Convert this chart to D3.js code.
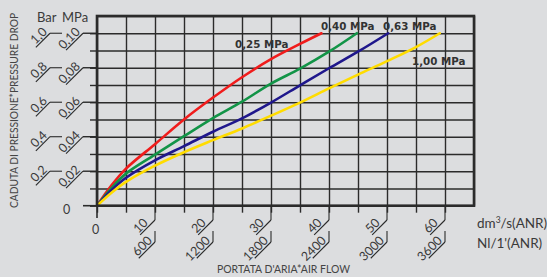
<!DOCTYPE html>
<html><head><meta charset="utf-8">
<script src="https://cdn.jsdelivr.net/npm/d3@7"></script>
<style>
html,body{margin:0;padding:0;background:#dcdddf;}
svg{display:block;}
</style></head>
<body>
<svg id="c" width="547" height="277"></svg>
<script>
// ---- data ----
const flowGrid = [0,5,10,15,20,25,30,35,40,45,50,55,60,65];
const flowMajor = [10,20,30,40,50,60];
const flowLabels = ["10","20","30","40","50","60"];
const nlLabels = ["600","1200","1800","2400","3000","3600"];
const mpaGrid = [0,0.01,0.02,0.03,0.04,0.05,0.06,0.07,0.08,0.09,0.10,0.11];
const mpaMajor = [0.02,0.04,0.06,0.08,0.10];
const mpaLabels = ["0,02","0,04","0,06","0,08","0,10"];
const barLabels = ["0,2","0,4","0,6","0,8","1,0"];

const seriesNames = ["0,25 MPa","0,40 MPa","0,63 MPa","1,00 MPa"];
const seriesColors = ["#f01c1c","#129447","#1f178c","#ffdc00"];
const flow025 = [0,2.5,5,10,15,20,25,30,35,38.7];
const drop025 = [0,0.0118,0.0215,0.0357,0.0500,0.0627,0.0745,0.0850,0.0938,0.100];
const flow040 = [0,2.5,5,10,15,20,25,30,35,40,44.8];
const drop040 = [0,0.0102,0.0186,0.0296,0.0403,0.0508,0.0603,0.0708,0.0795,0.0893,0.100];
const flow063 = [0,2.5,5,10,15,20,25,30,35,40,45,50.2];
const drop063 = [0,0.0090,0.0162,0.0263,0.0345,0.0429,0.0506,0.0598,0.0698,0.0797,0.0893,0.100];
const flow100 = [0,2.5,5,10,15,20,25,30,35,40,45,50,55,59.1];
const drop100 = [0,0.0075,0.0138,0.0232,0.0310,0.0380,0.0448,0.0522,0.0598,0.0680,0.0760,0.0838,0.0920,0.100];

// ---- layout ----
const svg = d3.select("#c");
const x = d3.scaleLinear().domain([0,65]).range([97,474]);
const y = d3.scaleLinear().domain([0,0.11]).range([205.7,16]);
const ink = "#2b2b2b", txt = "#3a3a3a";
const font = "Lato, 'DejaVu Sans', sans-serif";

svg.append("rect").attr("width",547).attr("height",277).attr("fill","#dcdddf");

// grid via axes
const gx = svg.append("g").attr("transform",`translate(0,${y(0)})`)
  .call(d3.axisBottom(x).tickValues(flowGrid).tickSize(-(y(0)-y(0.11))).tickFormat(""));
const gy = svg.append("g").attr("transform",`translate(${x(0)},0)`)
  .call(d3.axisLeft(y).tickValues(mpaGrid).tickSize(-(x(65)-x(0))).tickFormat(""));
[gx,gy].forEach(g=>{g.select(".domain").remove();
  g.selectAll("line").attr("stroke",ink).attr("stroke-width",1.4);});

// outside ticks (x)
const tx = svg.append("g").attr("transform",`translate(0,${y(0)})`)
  .call(d3.axisBottom(x).tickValues(flowGrid.filter(v=>v<65)).tickSize(7).tickFormat(""));
tx.select(".domain").remove();
tx.selectAll("line").attr("stroke",ink).attr("stroke-width",1.4);
// outside ticks (y)
const ty = svg.append("g").attr("transform",`translate(${x(0)},0)`)
  .call(d3.axisLeft(y).tickValues(mpaGrid.filter(v=>v<0.11)).tickSize(7).tickFormat(""));
ty.select(".domain").remove();
ty.selectAll("line").attr("stroke",ink).attr("stroke-width",1.4);

// curves
const lineGen = d3.line().x(d=>x(d[0])).y(d=>y(d[1])).curve(d3.curveCatmullRom.alpha(0.5));
const seriesData = [[flow025,drop025],[flow040,drop040],[flow063,drop063],[flow100,drop100]];
seriesData.forEach((s,i)=>{
  const pts = s[0].map((f,j)=>[f,s[1][j]]);
  svg.append("path").attr("d",lineGen(pts)).attr("fill","none")
    .attr("stroke",seriesColors[i]).attr("stroke-width",2.6).attr("stroke-linecap","round");
});

// frame
svg.append("rect").attr("x",x(0)).attr("y",y(0.11)).attr("width",x(65)-x(0)).attr("height",y(0)-y(0.11))
  .attr("fill","none").attr("stroke",ink).attr("stroke-width",2.6);

// zero ticks extended
svg.append("line").attr("x1",83).attr("x2",x(0)).attr("y1",y(0)).attr("y2",y(0)).attr("stroke",ink).attr("stroke-width",1.6);
svg.append("line").attr("x1",x(0)).attr("x2",x(0)).attr("y1",y(0)).attr("y2",218).attr("stroke",ink).attr("stroke-width",1.6);

// diagonal label helper
function diag(px,py,len,label,endOff,size){
  const g = svg.append("g").attr("transform",`translate(${px},${py}) rotate(-45)`);
  g.append("line").attr("x1",0).attr("y1",0).attr("x2",-len).attr("y2",0)
    .attr("stroke",ink).attr("stroke-width",1.1);
  g.append("text").attr("x",-endOff).attr("y",-2).attr("text-anchor","end")
    .attr("font-family",font).attr("font-size",size).attr("fill",txt).text(label);
}

// y labels
mpaMajor.forEach((v,i)=>{
  const yy = y(v);
  svg.append("line").attr("x1",83).attr("x2",x(0)).attr("y1",yy).attr("y2",yy).attr("stroke",ink).attr("stroke-width",1.4);
  diag(83,yy,24,mpaLabels[i],1,12.5);
  svg.append("line").attr("x1",50).attr("x2",62).attr("y1",yy).attr("y2",yy).attr("stroke",ink).attr("stroke-width",1.1);
  diag(50,yy,20,barLabels[i],1,12.5);
});

// x labels
flowMajor.forEach((v,i)=>{
  const xx = x(v);
  svg.append("line").attr("x1",xx).attr("x2",xx).attr("y1",y(0)).attr("y2",220).attr("stroke",ink).attr("stroke-width",1.1);
  diag(xx,220,21,flowLabels[i],7,12.5);
  svg.append("line").attr("x1",xx).attr("x2",xx).attr("y1",231).attr("y2",242).attr("stroke",ink).attr("stroke-width",1.1);
  diag(xx,242,23,nlLabels[i],1,12.5);
});

// zeros
svg.append("text").attr("x",66.5).attr("y",213.5).attr("text-anchor","middle")
  .attr("font-family",font).attr("font-size",12.5).attr("fill",txt).text("0");
svg.append("text").attr("x",95.5).attr("y",233.5).attr("text-anchor","middle")
  .attr("font-family",font).attr("font-size",12.5).attr("fill",txt).text("0");

// unit headers
svg.append("text").attr("x",37).attr("y",21.5).attr("font-family",font).attr("font-size",13).attr("fill",txt).text("Bar");
svg.append("text").attr("x",62).attr("y",21.5).attr("font-family",font).attr("font-size",13).attr("fill",txt).text("MPa");

// axis titles
svg.append("text").attr("transform","translate(18,110.5) rotate(-90)").attr("text-anchor","middle")
  .attr("font-family",font).attr("font-size",10.5).attr("fill","#444")
  .attr("textLength",195).attr("lengthAdjust","spacingAndGlyphs")
  .text("CADUTA DI PRESSIONE*PRESSURE DROP");
svg.append("text").attr("x",283.5).attr("y",273).attr("text-anchor","middle")
  .attr("font-family",font).attr("font-size",10.5).attr("fill","#444")
  .attr("textLength",133).attr("lengthAdjust","spacingAndGlyphs")
  .text("PORTATA D'ARIA*AIR FLOW");

// units
const u1 = svg.append("text").attr("x",477).attr("y",227.5).attr("font-family",font).attr("font-size",13.5).attr("fill",txt);
u1.append("tspan").text("dm");
u1.append("tspan").attr("font-size",8.5).attr("dy",-5).text("3");
u1.append("tspan").attr("dy",5).text("/s(ANR)");
svg.append("text").attr("x",477).attr("y",247.5).attr("font-family",font).attr("font-size",13.5).attr("fill",txt).text("Nl/1'(ANR)");

// series labels
const labelX = [235,321,383,412];
const labelY = [47.5,29.5,29.5,65];
seriesNames.forEach((n,i)=>{
  svg.append("text").attr("x",labelX[i]).attr("y",labelY[i])
    .attr("font-family","'DejaVu Sans', sans-serif").attr("font-weight","bold")
    .attr("font-size",10.3).attr("fill","#333").text(n);
});
</script>
</body></html>
